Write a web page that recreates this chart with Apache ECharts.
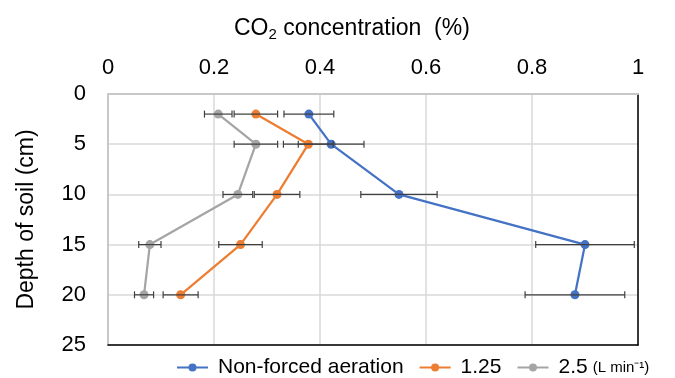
<!DOCTYPE html>
<html>
<head>
<meta charset="utf-8">
<script src="https://cdn.jsdelivr.net/npm/echarts@6/dist/echarts.min.js"></script>
<style>
html,body{margin:0;padding:0;background:#fff;}
#chart{width:675px;height:378px;}
</style>
</head>
<body>
<div id="chart"></div>
<script>
var depths = [2, 5, 10, 15, 20];
var nonForced = [0.379, 0.421, 0.549, 0.900, 0.881];
var nonForcedErr = [0.047, 0.062, 0.072, 0.093, 0.094];
var rate125 = [0.279, 0.378, 0.319, 0.250, 0.137];
var rate125Err = [0.041, 0.047, 0.043, 0.041, 0.033];
var rate25 = [0.208, 0.279, 0.245, 0.079, 0.068];
var rate25Err = [0.026, 0.041, 0.028, 0.021, 0.018];
var xTicks = [0, 0.2, 0.4, 0.6, 0.8, 1];
var yTicks = [0, 5, 10, 15, 20, 25];
var seriesNames = ['Non-forced aeration', '1.25', '2.5'];
var colors = ['#4472C4', '#ED7D31', '#A5A5A5'];

var FONT = '"Liberation Sans", Arial, sans-serif';

function pts(vals) {
  return vals.map(function (v, i) { return [v, depths[i]]; });
}
function errData(vals, errs) {
  return vals.map(function (v, i) { return [v - errs[i], v + errs[i], depths[i]]; });
}
function errSeries(vals, errs) {
  return {
    type: 'custom',
    xAxisIndex: 0, yAxisIndex: 0,
    z: 10,
    silent: true,
    data: errData(vals, errs),
    encode: { x: [0, 1], y: 2 },
    renderItem: function (params, api) {
      var lo = api.coord([api.value(0), api.value(2)]);
      var hi = api.coord([api.value(1), api.value(2)]);
      var h = 3.5;
      var st = { stroke: '#404040', lineWidth: 1.2 };
      return {
        type: 'group',
        children: [
          { type: 'line', shape: { x1: lo[0], y1: lo[1], x2: hi[0], y2: hi[1] }, style: st },
          { type: 'line', shape: { x1: lo[0], y1: lo[1] - h, x2: lo[0], y2: lo[1] + h }, style: st },
          { type: 'line', shape: { x1: hi[0], y1: hi[1] - h, x2: hi[0], y2: hi[1] + h }, style: st }
        ]
      };
    }
  };
}
function lineSeries(name, vals, color) {
  return {
    name: name,
    type: 'line',
    xAxisIndex: 0, yAxisIndex: 0,
    data: pts(vals),
    symbol: 'circle',
    symbolSize: 9,
    z: 5,
    lineStyle: { color: color, width: 2.25 },
    itemStyle: { color: color },
    animation: false
  };
}

var chart = echarts.init(document.getElementById('chart'), null, { renderer: 'canvas' });
chart.setOption({
  animation: false,
  color: colors,
  textStyle: { fontFamily: FONT },
  title: {
    text: 'CO{s|2} concentration  (%)',
    left: 229,
    top: 10,
    textStyle: {
      fontFamily: FONT, fontSize: 23, fontWeight: 'normal', color: '#000',
      rich: { s: { fontFamily: FONT, fontSize: 15, color: '#000', verticalAlign: 'bottom', padding: [12, 0, 0, 0] } }
    }
  },
  grid: { left: 108, right: 37, top: 94, bottom: 33, containLabel: false },
  legend: {
    data: seriesNames,
    left: 171,
    top: 352,
    itemWidth: 31,
    itemHeight: 10,
    itemGap: 15,
    textStyle: {
      fontFamily: FONT, fontSize: 21, color: '#000', padding: [0, 0, 0, 5],
      rich: { u: { fontFamily: FONT, fontSize: 15, color: '#000', padding: [0, 0, 0, 5] } }
    },
    formatter: function (name) {
      return name === '2.5' ? '2.5{u|(L min\u207B\u00B9)}' : name;
    }
  },
  xAxis: [{
    type: 'value',
    position: 'top',
    min: 0, max: 1, interval: 0.2,
    axisLine: { show: true, lineStyle: { color: '#c8c8c8', width: 2 } },
    axisTick: { show: false },
    axisLabel: {
      fontFamily: FONT, fontSize: 22, color: '#000', margin: 15,
      formatter: function (v) { return xTicks.indexOf(Math.round(v * 10) / 10) >= 0 ? String(Math.round(v * 10) / 10) : ''; }
    },
    splitLine: { show: true, lineStyle: { color: '#d9d9d9', width: 1.5 } }
  }, {
    type: 'value',
    position: 'bottom',
    min: 0, max: 1,
    axisLine: { show: true, onZero: false, lineStyle: { color: '#000', width: 1.5 } },
    axisTick: { show: false },
    axisLabel: { show: false },
    splitLine: { show: false }
  }],
  yAxis: [{
    type: 'value',
    inverse: true,
    min: 0, max: 25, interval: 5,
    name: 'Depth of soil (cm)',
    nameLocation: 'middle',
    nameRotate: 90,
    nameGap: 70,
    nameTextStyle: { fontFamily: FONT, fontSize: 23, color: '#000' },
    axisLine: { show: true, onZero: false, lineStyle: { color: '#c8c8c8', width: 2 } },
    axisTick: { show: false },
    axisLabel: {
      fontFamily: FONT, fontSize: 22, color: '#000', margin: 22,
      formatter: function (v) { return yTicks.indexOf(v) >= 0 ? String(v) : ''; }
    },
    splitLine: { show: true, lineStyle: { color: '#d9d9d9', width: 1.5 } }
  }, {
    type: 'value',
    position: 'right',
    inverse: true,
    min: 0, max: 25,
    axisLine: { show: true, onZero: false, lineStyle: { color: '#000', width: 1.5 } },
    axisTick: { show: false },
    axisLabel: { show: false },
    splitLine: { show: false }
  }],
  series: [
    lineSeries(seriesNames[0], nonForced, colors[0]),
    lineSeries(seriesNames[1], rate125, colors[1]),
    lineSeries(seriesNames[2], rate25, colors[2]),
    errSeries(nonForced, nonForcedErr),
    errSeries(rate125, rate125Err),
    errSeries(rate25, rate25Err)
  ]
});
</script>
</body>
</html>
